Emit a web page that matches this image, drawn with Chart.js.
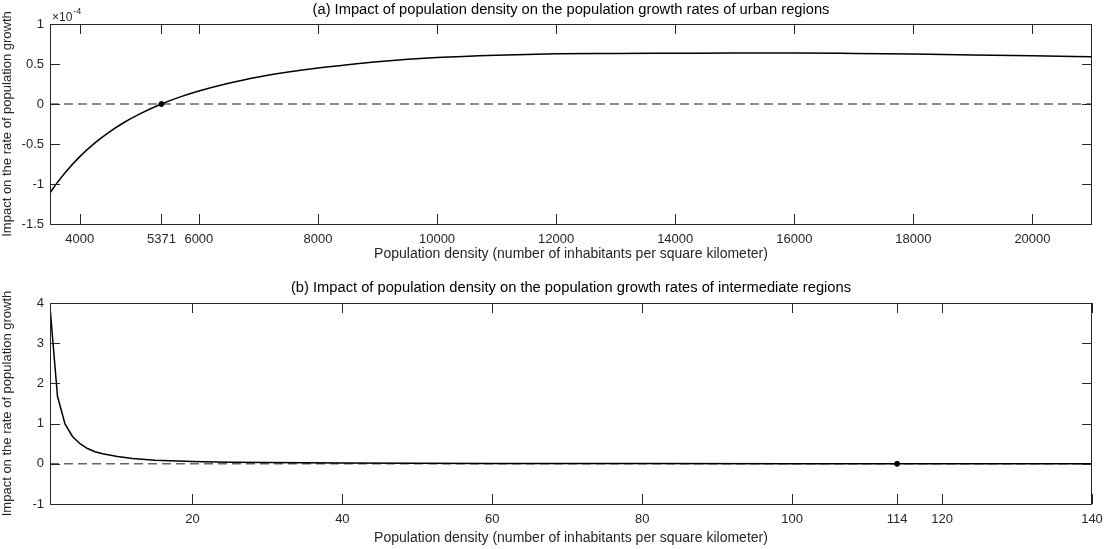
<!DOCTYPE html>
<html>
<head>
<meta charset="utf-8">
<script src="https://cdn.jsdelivr.net/npm/chart.js@4.4.1/dist/chart.umd.min.js"></script>
<style>
  body { margin: 0; background: #fff; }
  canvas { display: block; }
</style>
</head>
<body>
<canvas id="chartUrban" width="1104" height="265"></canvas>
<canvas id="chartInter" width="1104" height="284"></canvas>
<script>
// (a) urban regions, impact in units of 1e-4
const urbanDensity = [3500, 3600, 3750, 4000, 4250, 4500, 4750, 5000, 5371, 5700, 6000, 6500, 7000, 7500, 8000, 8500, 9000, 10000, 11000, 12000, 13000, 14000, 15000, 16000, 17000, 18000, 19000, 20000, 21000];
const urbanImpact  = [-1.11, -1.005, -0.862, -0.658, -0.489, -0.348, -0.228, -0.126, 0, 0.092, 0.163, 0.26, 0.337, 0.399, 0.45, 0.492, 0.528, 0.58, 0.61, 0.627, 0.632, 0.635, 0.637, 0.637, 0.632, 0.624, 0.614, 0.603, 0.59];
const urbanThreshold = 5371;
const urbanTicksX = [4000, 5371, 6000, 8000, 10000, 12000, 14000, 16000, 18000, 20000];
const urbanTicksY = [-1.5, -1, -0.5, 0, 0.5, 1];

// (b) intermediate regions
const interDensity = [1, 2, 3, 4, 5, 6, 7, 8, 10, 12, 15, 20, 25, 30, 40, 50, 60, 80, 100, 114, 120, 140];
const interImpact  = [3.9, 1.68, 0.99, 0.68, 0.5, 0.38, 0.3, 0.25, 0.18, 0.13, 0.09, 0.055, 0.04, 0.03, 0.018, 0.012, 0.008, 0.005, 0.003, 0.002, 0.002, 0.001];
const interThreshold = 114;
const interTicksX = [20, 40, 60, 80, 100, 114, 120, 140];
const interTicksY = [-1, 0, 1, 2, 3, 4];

const xTitle = "Population density (number of inhabitants per square kilometer)";
const yTitle = "Impact on the rate of population growth";
const FONT = "'Liberation Sans', Arial, sans-serif";

Chart.defaults.font.family = FONT;
Chart.defaults.color = "#262626";

// MATLAB-like box with inward ticks on all four sides
const frameTicks = {
  id: "frameTicks",
  afterDatasetsDraw(chart) {
    const { ctx, chartArea: a, scales } = chart;
    ctx.save();
    ctx.strokeStyle = "#262626";
    ctx.lineWidth = 1;
    ctx.beginPath();
    scales.x.ticks.forEach(t => {
      const px = Math.round(scales.x.getPixelForValue(t.value)) + 0.5;
      ctx.moveTo(px, a.bottom); ctx.lineTo(px, a.bottom - 10);
      ctx.moveTo(px, a.top); ctx.lineTo(px, a.top + 10);
    });
    scales.y.ticks.forEach(t => {
      const py = Math.round(scales.y.getPixelForValue(t.value)) + 0.5;
      ctx.moveTo(a.left, py); ctx.lineTo(a.left + 10, py);
      ctx.moveTo(a.right, py); ctx.lineTo(a.right - 10, py);
    });
    ctx.stroke();
    ctx.strokeRect(a.left + 0.5, a.top + 0.5, a.right - a.left - 1, a.bottom - a.top);
    ctx.restore();
  }
};

// title centred over the axes box, like MATLAB
const axesTitle = {
  id: "axesTitle",
  afterDraw(chart, args, o) {
    const { ctx, chartArea: a } = chart;
    ctx.save();
    ctx.fillStyle = "#000";
    ctx.font = "14.7px " + FONT;
    ctx.textAlign = "center";
    ctx.textBaseline = "middle";
    ctx.fillText(o.text, (a.left + a.right) / 2, o.y);
    if (o.exponent) {
      ctx.fillStyle = "#262626";
      ctx.textAlign = "left";
      ctx.textBaseline = "alphabetic";
      ctx.font = "12px " + FONT;
      ctx.fillText("\u00d710", a.left + 2, a.top - 3);
      const w = ctx.measureText("\u00d710").width;
      ctx.font = "9px " + FONT;
      ctx.fillText(o.exponent, a.left + 2 + w + 1, a.top - 10);
    }
    ctx.restore();
  }
};

function makeChart(id, opt) {
  const pts = opt.xs.map((x, i) => ({ x: x, y: opt.ys[i] }));
  return new Chart(document.getElementById(id), {
    type: "line",
    data: {
      datasets: [
        {
          data: [{ x: opt.min, y: 0 }, { x: opt.max, y: 0 }],
          borderColor: "#666", borderWidth: 1.5, borderDash: [9, 5],
          pointRadius: 0, order: 3
        },
        {
          data: pts, borderColor: "#000", borderWidth: 1.5,
          pointRadius: 0, tension: 0, cubicInterpolationMode: opt.smooth ? "monotone" : "default",
          order: 2
        },
        {
          data: [{ x: opt.threshold, y: 0 }], showLine: false,
          pointRadius: 2.5, pointBackgroundColor: "#000", pointBorderColor: "#000", order: 1
        }
      ]
    },
    options: {
      responsive: false,
      animation: false,
      devicePixelRatio: 1,
      layout: { padding: { left: 0, right: 12, top: opt.top, bottom: 0 } },
      plugins: {
        legend: { display: false },
        tooltip: { enabled: false },
        title: { display: false },
        axesTitle: { text: opt.title, y: opt.titleY, exponent: opt.exponent }
      },
      scales: {
        x: {
          type: "linear", min: opt.min, max: opt.max,
          grid: { display: false, drawTicks: false },
          border: { display: false },
          afterBuildTicks: s => { s.ticks = opt.ticksX.map(v => ({ value: v })); },
          afterFit: s => { s.height = opt.xHeight; s.paddingLeft = 0; s.paddingRight = 0; },
          ticks: { padding: 8, autoSkip: false, maxRotation: 0, font: { size: 13 }, callback: v => String(v) },
          title: { display: true, text: xTitle, font: { size: 14 }, padding: { top: 0, bottom: 2 } }
        },
        y: {
          type: "linear", min: opt.ticksY[0], max: opt.ticksY[opt.ticksY.length - 1],
          grid: { display: false, drawTicks: false },
          border: { display: false },
          afterBuildTicks: s => { s.ticks = opt.ticksY.map(v => ({ value: v })); },
          afterFit: s => { s.width = 50; s.paddingTop = 0; s.paddingBottom = 0; },
          ticks: { padding: 6, autoSkip: false, font: { size: 13 }, callback: v => String(v) },
          title: { display: true, text: yTitle, font: { size: 13 }, padding: { top: 0, bottom: 0 } }
        }
      }
    },
    plugins: [frameTicks, axesTitle]
  });
}

makeChart("chartUrban", {
  xs: urbanDensity, ys: urbanImpact, threshold: urbanThreshold,
  min: 3500, max: 21000, ticksX: urbanTicksX, ticksY: urbanTicksY,
  smooth: true, xHeight: 41, top: 24, titleY: 10, exponent: "-4",
  title: "(a) Impact of population density on the population growth rates of urban regions"
});

makeChart("chartInter", {
  xs: interDensity, ys: interImpact, threshold: interThreshold,
  min: 1, max: 140, ticksX: interTicksX, ticksY: interTicksY,
  smooth: false, xHeight: 45, top: 38, titleY: 23,
  title: "(b) Impact of population density on the population growth rates of intermediate regions"
});
</script>
</body>
</html>
